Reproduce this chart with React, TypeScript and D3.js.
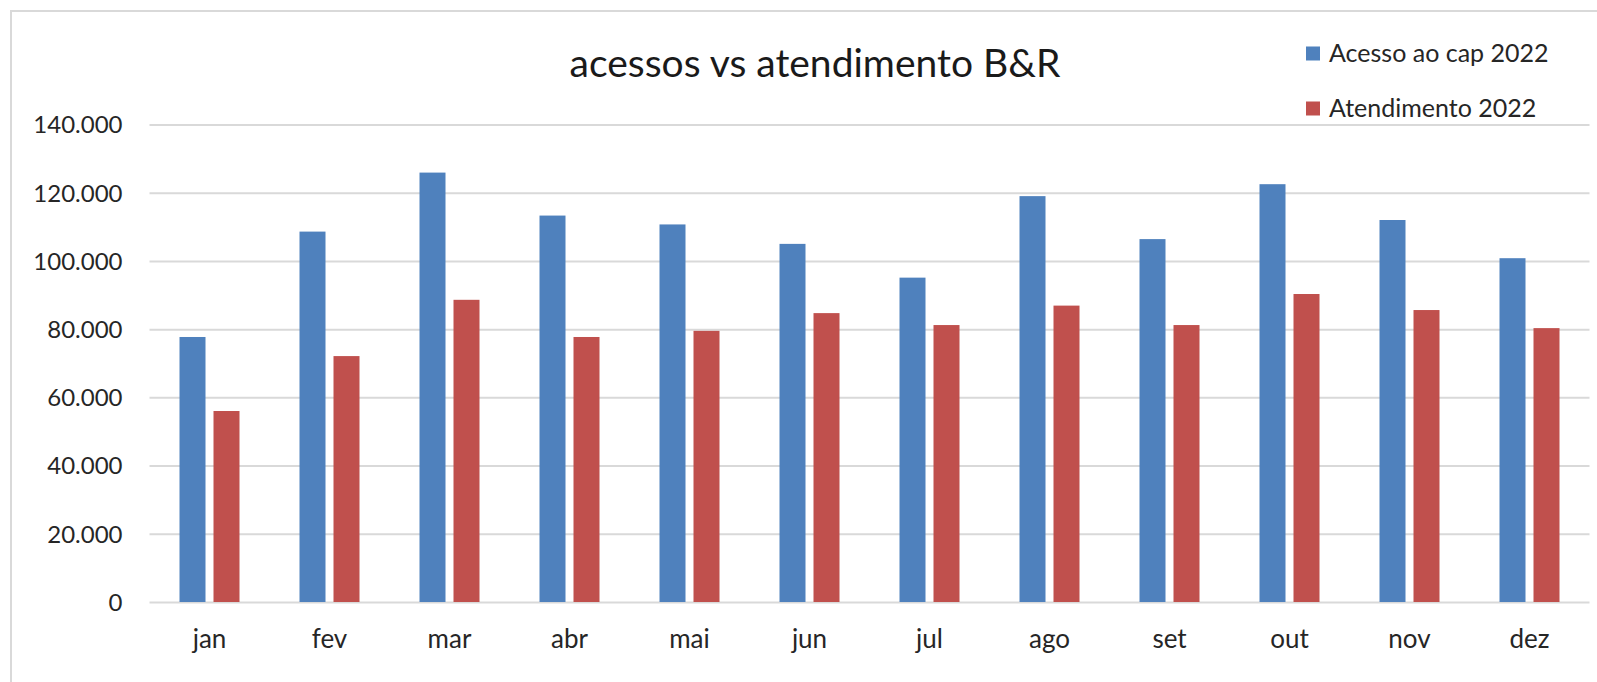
import * as d3 from 'd3';
import { useEffect, useRef } from 'react';

const months = ['jan', 'fev', 'mar', 'abr', 'mai', 'jun', 'jul', 'ago', 'set', 'out', 'nov', 'dez'];
const series = ['Acesso ao cap 2022', 'Atendimento 2022'];
const acessos = [77700, 108600, 125900, 113300, 110700, 105000, 95100, 119000, 106400, 122500, 112000, 100800];
const atendimentos = [56000, 72100, 88600, 77700, 79500, 84700, 81200, 86900, 81200, 90300, 85600, 80300];
const yTicks = [0, 20000, 40000, 60000, 80000, 100000, 120000, 140000];
const colors = ['#4f81bd', '#c0504d'];

function Chart() {
    const svgRef = useRef<SVGSVGElement>(null);

    useEffect(() => {
        const w = 1597;
        const h = 682;
        const left = 149.5;
        const right = 1589.5;
        const top = 124.5;
        const bottom = 602;
        const font = 'Lato, "Noto Sans", sans-serif';

        const svg = d3.select(svgRef.current)
            .attr('width', w)
            .attr('height', h);
        svg.selectAll('*').remove();

        // chart frame (cut off at right and bottom in the picture)
        svg.append('rect')
            .attr('x', 11).attr('y', 11)
            .attr('width', w).attr('height', h)
            .attr('fill', '#fff')
            .attr('stroke', '#d9d9d9')
            .attr('stroke-width', 2);

        const xScale = d3.scaleBand<string>()
            .domain(months)
            .range([left, right]);

        const inner = d3.scaleBand<string>()
            .domain(series)
            .range([0, 60])
            .paddingInner(8 / 34);

        const yScale = d3.scaleLinear()
            .domain([0, 140000])
            .range([bottom, top]);

        const fmt = d3.formatLocale({ decimal: ',', thousands: '.', grouping: [3], currency: ['R$', ''] }).format(',d');

        const yAxis = d3.axisLeft(yScale)
            .tickValues(yTicks)
            .tickSize(-(right - left))
            .tickPadding(0)
            .tickFormat(d => fmt(d as number));

        const gy = svg.append('g')
            .attr('transform', `translate(${left}, 0)`)
            .call(yAxis);
        gy.select('.domain').remove();
        gy.selectAll('.tick line')
            .attr('stroke', '#d9d9d9')
            .attr('stroke-width', 2);
        gy.selectAll('.tick text')
            .attr('x', -27)
            .attr('dy', '0.35em')
            .attr('fill', '#262626')
            .style('font-family', font)
            .style('font-size', '24px');

        const xAxis = d3.axisBottom(xScale).tickSize(0).tickPadding(0);
        const gx = svg.append('g')
            .attr('transform', `translate(0, ${bottom})`)
            .call(xAxis);
        gx.select('.domain').remove();
        gx.selectAll('.tick text')
            .attr('y', 46)
            .attr('dy', 0)
            .attr('fill', '#262626')
            .style('font-family', font)
            .style('font-size', '26px');

        const values = [acessos, atendimentos];
        values.forEach((vals, si) => {
            svg.append('g')
                .selectAll('rect')
                .data(vals)
                .join('rect')
                    .attr('x', (v, i) => (xScale(months[i]) as number) + 30 + (inner(series[si]) as number))
                    .attr('y', v => yScale(v))
                    .attr('width', inner.bandwidth())
                    .attr('height', v => bottom - yScale(v))
                    .style('fill', colors[si]);
        });

        svg.append('text')
            .attr('x', 815)
            .attr('y', 77)
            .attr('text-anchor', 'middle')
            .attr('fill', '#1a1a1a')
            .style('font-family', font)
            .style('font-size', '39px')
            .text('acessos vs atendimento B&R');

        const legend = svg.append('g')
            .selectAll('g')
            .data(series)
            .join('g')
                .attr('transform', (d, i) => `translate(1306, ${53.5 + i * 55})`);
        legend.append('rect')
            .attr('x', 0).attr('y', -7)
            .attr('width', 14).attr('height', 14)
            .style('fill', (d, i) => colors[i]);
        legend.append('text')
            .attr('x', 23)
            .attr('y', 8)
            .attr('fill', '#262626')
            .style('font-family', font)
            .style('font-size', '25px')
            .text(d => d);
    }, []);

    return (
        <svg ref={svgRef} style={{ position: 'absolute', left: 0, top: 0 }}></svg>
    );
}

export default function App() {
    return <Chart />;
}
